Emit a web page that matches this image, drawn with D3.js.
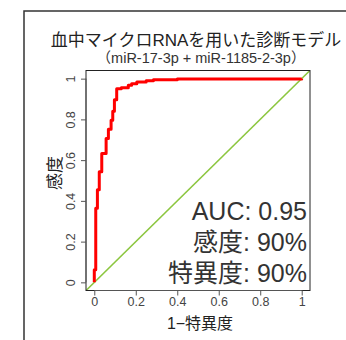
<!DOCTYPE html>
<html>
<head>
<meta charset="utf-8">
<script src="https://cdn.jsdelivr.net/npm/d3@7"></script>
<style>
  body { margin: 0; background: #fff; }
  text { font-family: "Liberation Sans", Arial, "Noto Sans CJK JP", sans-serif; }
</style>
</head>
<body>
<div id="chart"></div>
<script>
'use strict';

// ROC curve points (1 - specificity, sensitivity)
var fpr = [0, 0, 0.007, 0.015, 0.024, 0.036, 0.057, 0.068, 0.081, 0.089, 0.097, 0.108, 0.13, 0.164, 0.18, 0.205, 0.25, 0.285, 0.4, 1];
var tpr = [0, 0.062, 0.364, 0.454, 0.543, 0.633, 0.706, 0.752, 0.796, 0.84, 0.897, 0.951, 0.955, 0.967, 0.975, 0.983, 0.99, 0.995, 0.998, 1];
var tickValues = [0, 0.2, 0.4, 0.6, 0.8, 1];
var tickLabels = ['0', '0.2', '0.4', '0.6', '0.8', '1'];
var title = '血中マイクロRNAを用いた診断モデル';
var subtitle = '（miR-17-3p + miR-1185-2-3p）';
var xTitle = '1−特異度';
var yTitle = '感度';
var stats = ['AUC: 0.95', '感度: 90%', '特異度: 90%'];

var width = 346, height = 340;
var plot = { left: 86, right: 310, top: 70.5, bottom: 290.5 };

var svg = d3.select('#chart').append('svg')
    .attr('width', width)
    .attr('height', height);

// outer frame
svg.append('rect')
    .attr('x', 24).attr('y', 11)
    .attr('width', 340).attr('height', 340)
    .attr('fill', 'none')
    .attr('stroke', '#333')
    .attr('stroke-width', 1.5);

var x = d3.scaleLinear().domain([-0.04, 1.04]).range([plot.left, plot.right]);
var y = d3.scaleLinear().domain([-0.04, 1.04]).range([plot.bottom, plot.top]);

svg.append('defs').append('clipPath').attr('id', 'clip')
    .append('rect')
    .attr('x', plot.left).attr('y', plot.top)
    .attr('width', plot.right - plot.left).attr('height', plot.bottom - plot.top);

// diagonal reference line
svg.append('line')
    .attr('clip-path', 'url(#clip)')
    .attr('x1', x(-0.04)).attr('y1', y(-0.04))
    .attr('x2', x(1.04)).attr('y2', y(1.04))
    .attr('stroke', '#8cc63f')
    .attr('stroke-width', 1.6);

// ROC curve
var rocLine = d3.line()
    .x(function(d) { return x(d[0]); })
    .y(function(d) { return y(d[1]); })
    .curve(d3.curveStepAfter);

svg.append('path')
    .datum(d3.zip(fpr, tpr))
    .attr('d', rocLine)
    .attr('fill', 'none')
    .attr('stroke', '#ff0000')
    .attr('stroke-width', 3)
    .attr('stroke-linejoin', 'round');

// plot box
svg.append('rect')
    .attr('x', plot.left).attr('y', plot.top)
    .attr('width', plot.right - plot.left).attr('height', plot.bottom - plot.top)
    .attr('fill', 'none')
    .attr('stroke', '#222')
    .attr('stroke-width', 1);

// axes
var xAxis = d3.axisBottom(x).tickValues(tickValues)
    .tickFormat(function(d, i) { return tickLabels[i]; })
    .tickSize(5).tickPadding(2);
var yAxis = d3.axisLeft(y).tickValues(tickValues)
    .tickFormat(function(d, i) { return tickLabels[i]; })
    .tickSize(5).tickPadding(3);

var gx = svg.append('g').attr('transform', 'translate(0,' + plot.bottom + ')').call(xAxis);
var gy = svg.append('g').attr('transform', 'translate(' + plot.left + ',0)').call(yAxis);

[gx, gy].forEach(function(g) {
    g.select('.domain').remove();
    g.selectAll('.tick line').attr('stroke', '#555');
    g.selectAll('.tick text')
        .attr('fill', '#444')
        .style('font-size', '12.5px');
});

gy.selectAll('.tick text')
    .attr('text-anchor', 'middle')
    .attr('x', null).attr('dy', null)
    .attr('transform', 'translate(-11,0) rotate(-90)')
    .attr('y', 0);

// axis lines from first to last tick
gx.append('line')
    .attr('x1', x(0)).attr('x2', x(1))
    .attr('stroke', '#555');
gy.append('line')
    .attr('y1', y(0)).attr('y2', y(1))
    .attr('stroke', '#555');

// titles
svg.append('text')
    .attr('x', 196).attr('y', 46)
    .attr('text-anchor', 'middle')
    .style('font-size', '17px')
    .attr('fill', '#222')
    .text(title);

svg.append('text')
    .attr('x', 201).attr('y', 63)
    .attr('text-anchor', 'middle')
    .style('font-size', '14.5px')
    .attr('fill', '#333')
    .text(subtitle);

svg.append('text')
    .attr('x', 200).attr('y', 329)
    .attr('text-anchor', 'middle')
    .style('font-size', '16px')
    .attr('fill', '#222')
    .text(xTitle);

svg.append('text')
    .attr('transform', 'translate(61,173) rotate(-90)')
    .attr('text-anchor', 'middle')
    .style('font-size', '17px')
    .attr('fill', '#222')
    .text(yTitle);

// stats annotation
svg.append('g').selectAll('text')
    .data(stats)
    .enter().append('text')
    .attr('x', 307)
    .attr('y', function(d, i) { return 220 + i * 31; })
    .attr('text-anchor', 'end')
    .style('font-size', '25px')
    .attr('fill', '#333')
    .text(function(d) { return d; });
</script>
</body>
</html>
